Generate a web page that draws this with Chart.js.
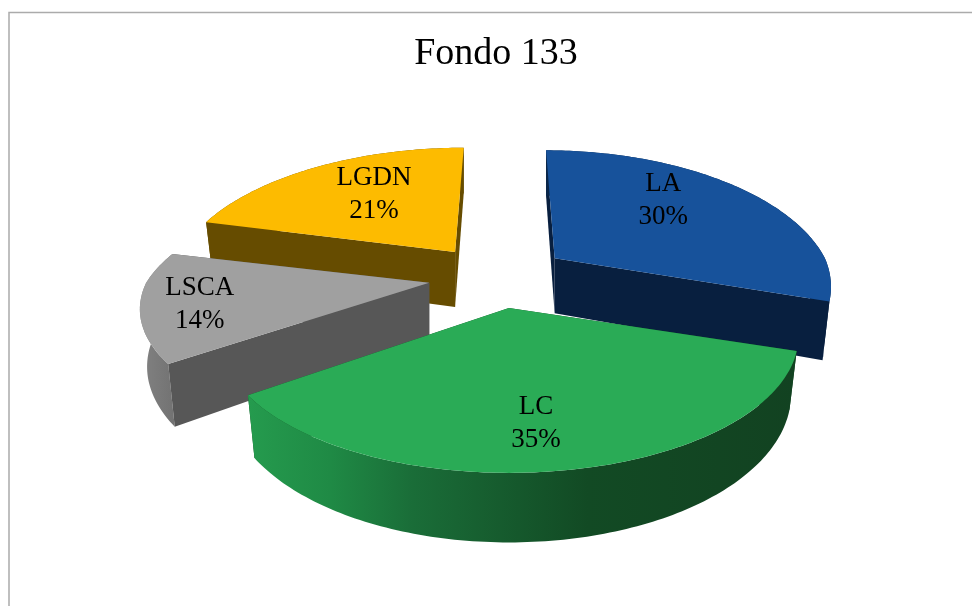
<!DOCTYPE html>
<html><head><meta charset="utf-8">
<style>html,body{margin:0;padding:0;background:#fff}#w{width:972px;height:606px;position:relative}</style>
<script src="https://cdn.jsdelivr.net/npm/chart.js@4/dist/chart.umd.js"></script>
</head><body><div id="w"><canvas id="c" width="972" height="606"></canvas></div>
<script>
const categories = ['LA','LC','LSCA','LGDN'];
const shares = [30,35,14,21];
const chartTitle = 'Fondo 133';
const topColors = ['#17529b','#2aab56','#a0a0a0','#fdbb00'];
const faceColors = ['#081f3f','#134a22','#575757','#664c00'];
const wallStops = [
  [[0,'#0a2649'],[1,'#0a2649']],
  [[0,'#259b4e'],[0.15,'#1f8a45'],[0.3,'#1a6d38'],[0.62,'#124a24'],[1,'#124221']],
  [[0,'#949494'],[0.12,'#808080'],[1,'#707070']],
  [[0,'#664c00'],[1,'#664c00']]
];
const drawOrder = [3,0,2,1];
const sliceScaleX = [0.955,1,1,0.965];
const sliceScaleY = [1,1,0.93,0.965];
const labelSpot = [[0.385,0.666],[0.522,0.744],[0.5,0.8],[0.555,0.605]];

const FONT = '"Liberation Serif", serif';
const RX = 283, RY = 130.5, PERSP = 0.209, DEPTH = 55, BOTTOM_SHRINK = 0.975;
const EXPLODE_Y = 0.45, SHIFT_X = 2, VANISH_X = 505;

function apexOf(el){
  const mid = (el.startAngle + el.endAngle)/2, o = el.options.offset;
  return {x: el.x + SHIFT_X + Math.cos(mid)*o, y: el.y + Math.sin(mid)*o*EXPLODE_Y};
}
function project(apex, angle, rho, kx, ky, low){
  const X = Math.cos(angle)*rho, Y = Math.sin(angle)*rho;
  const s = 1/(1-PERSP*Y), shrink = low ? BOTTOM_SHRINK : 1;
  return {
    x: apex.x + (apex.x-VANISH_X)*(Math.min(s,1)-1) + X*RX*kx*s*shrink,
    y: apex.y + Y*RY*ky*s + (low ? DEPTH*s : 0)
  };
}
function poly(ctx, pts, fill){
  ctx.beginPath();
  pts.forEach((p,i)=> i ? ctx.lineTo(p.x,p.y) : ctx.moveTo(p.x,p.y));
  ctx.closePath(); ctx.fillStyle = fill; ctx.fill();
}
const pie3d = {
  id:'pie3d',
  beforeDraw(chart){
    const ctx = chart.ctx; ctx.save();
    ctx.strokeStyle='#ababab'; ctx.lineWidth=1.5;
    ctx.beginPath(); ctx.moveTo(9,606); ctx.lineTo(9,12.5); ctx.lineTo(972,12.5); ctx.stroke();
    ctx.restore();
  },
  beforeDatasetDraw(chart,args){
    const ctx = chart.ctx, arcs = args.meta.data;
    ctx.save();
    drawOrder.forEach(i=>{
      const el = arcs[i], apex = apexOf(el), kx = sliceScaleX[i], ky = sliceScaleY[i];
      const a0 = el.startAngle, a1 = el.endAngle, n = Math.ceil((a1-a0)/(Math.PI/180));
      const up=[], low=[];
      for(let j=0;j<=n;j++){
        const a = a0+(a1-a0)*j/n;
        up.push(project(apex,a,1,kx,ky,false)); low.push(project(apex,a,1,kx,ky,true));
      }
      const apexLow = project(apex,0,0,kx,ky,true);
      const xs = up.concat(low).map(p=>p.x), x0=Math.min(...xs), x1=Math.max(...xs);
      const g = ctx.createLinearGradient(x0,0,x1,0);
      wallStops[i].forEach(s=>g.addColorStop(s[0],s[1]));
      const faceA = [apex,up[0],low[0],apexLow], faceB = [apex,up[n],low[n],apexLow];
      const aFront = Math.sin(a0-Math.PI/2) > 0.01, bFront = Math.sin(a1+Math.PI/2) > 0.01;
      if(!aFront) poly(ctx,faceA,faceColors[i]);
      if(!bFront) poly(ctx,faceB,faceColors[i]);
      poly(ctx, up.concat(low.slice().reverse()), g);
      if(aFront) poly(ctx,faceA,faceColors[i]);
      if(bFront) poly(ctx,faceB,faceColors[i]);
      poly(ctx,[apex].concat(up),el.options.backgroundColor);
    });
    ctx.fillStyle='#000'; ctx.font='27px '+FONT; ctx.textAlign='center'; ctx.textBaseline='middle';
    arcs.forEach((el,i)=>{
      const a = el.startAngle+(el.endAngle-el.startAngle)*labelSpot[i][0];
      const p = project(apexOf(el),a,labelSpot[i][1],1,1,false);
      ctx.fillText(categories[i],p.x,p.y-15);
      ctx.fillText(shares[i]+'%',p.x,p.y+18);
    });
    ctx.restore();
    return false;
  }
};
new Chart(document.getElementById('c'),{
  type:'pie',
  data:{labels:categories,datasets:[{data:shares,backgroundColor:topColors,borderWidth:0,offset:70}]},
  options:{
    responsive:false,animation:false,
    layout:{padding:{left:20,right:0,top:0,bottom:132}},
    plugins:{
      legend:{display:false},tooltip:{enabled:false},
      title:{display:true,text:chartTitle,color:'#000',font:{family:FONT,size:38,weight:'normal'},padding:{top:31,bottom:3}}
    }
  },
  plugins:[pie3d]
});
</script></body></html>
